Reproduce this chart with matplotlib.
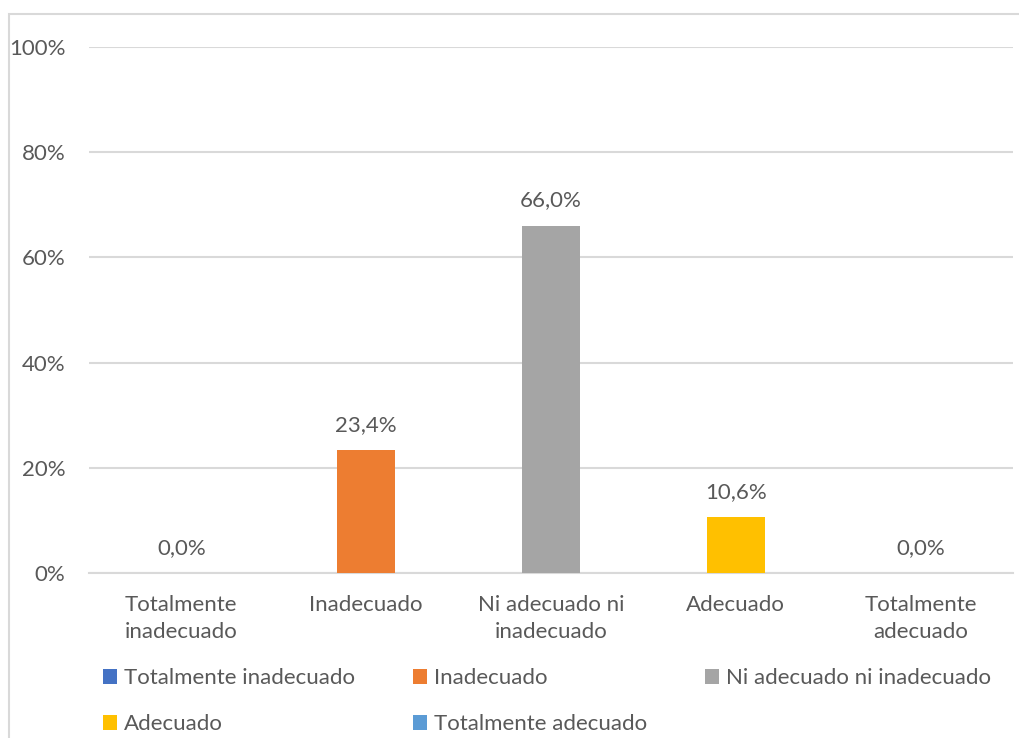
import matplotlib.pyplot as plt
from matplotlib.patches import Rectangle, Patch

plt.rcParams['font.family'] = ['Lato', 'DejaVu Sans']

categorias = ['Totalmente inadecuado', 'Inadecuado', 'Ni adecuado ni inadecuado',
              'Adecuado', 'Totalmente adecuado']
etiquetas_x = ['Totalmente\ninadecuado', 'Inadecuado', 'Ni adecuado ni\ninadecuado',
               'Adecuado', 'Totalmente\nadecuado']
porcentajes = [0.0, 23.4, 66.0, 10.6, 0.0]
colores = ['#4472C4', '#ED7D31', '#A5A5A5', '#FFC000', '#5B9BD5']

gris_texto = '#595959'
gris_linea = '#D9D9D9'
tam = 16

fig = plt.figure(figsize=(10.19, 7.38), dpi=100)
ax = fig.add_axes([0.0873, 0.2236, 0.9068, 0.7127])

# marco del grafico
fig.patches.append(Rectangle((9 / 1019, -0.05), 1.2, 1.05 - 14 / 738,
                             transform=fig.transFigure, fill=False,
                             edgecolor=gris_linea, linewidth=1.5))

x = range(len(categorias))
barras = ax.bar(x, porcentajes, width=0.315, color=colores, zorder=3)
ax.bar_label(barras, labels=[f'{v:.1f}%'.replace('.', ',') for v in porcentajes],
             padding=11, fontsize=tam, color=gris_texto)

ax.set_xlim(-0.5, len(categorias) - 0.5)
ax.set_ylim(0, 100)
ax.set_yticks(range(0, 101, 20))
ax.set_yticklabels([f'{t}%' for t in range(0, 101, 20)])
ax.yaxis.grid(True, color=gris_linea, linewidth=1.5, zorder=0)
ax.set_xticks(list(x))
ax.set_xticklabels(etiquetas_x, linespacing=1.4)
ax.tick_params(axis='both', length=0, labelsize=tam, labelcolor=gris_texto)
ax.tick_params(axis='x', pad=16)
ax.tick_params(axis='y', pad=17)
for lado in ['top', 'right', 'left']:
    ax.spines[lado].set_visible(False)
ax.spines['bottom'].set_color(gris_linea)
ax.spines['bottom'].set_linewidth(1.5)

# leyenda en tres columnas (se rellena por columnas)
orden = [0, 3, 1, 4, 2]
manejadores = [Patch(facecolor=colores[i], label=categorias[i]) for i in orden]
fig.legend(handles=manejadores, loc='upper left', ncol=3,
           bbox_to_anchor=(83 / 1019, 1 - 648 / 738), frameon=False,
           fontsize=tam, labelcolor=gris_texto, handlelength=0.65,
           handleheight=0.65, handletextpad=0.3, columnspacing=2.6,
           labelspacing=1.18)

fig.savefig('out.png', dpi=100)
